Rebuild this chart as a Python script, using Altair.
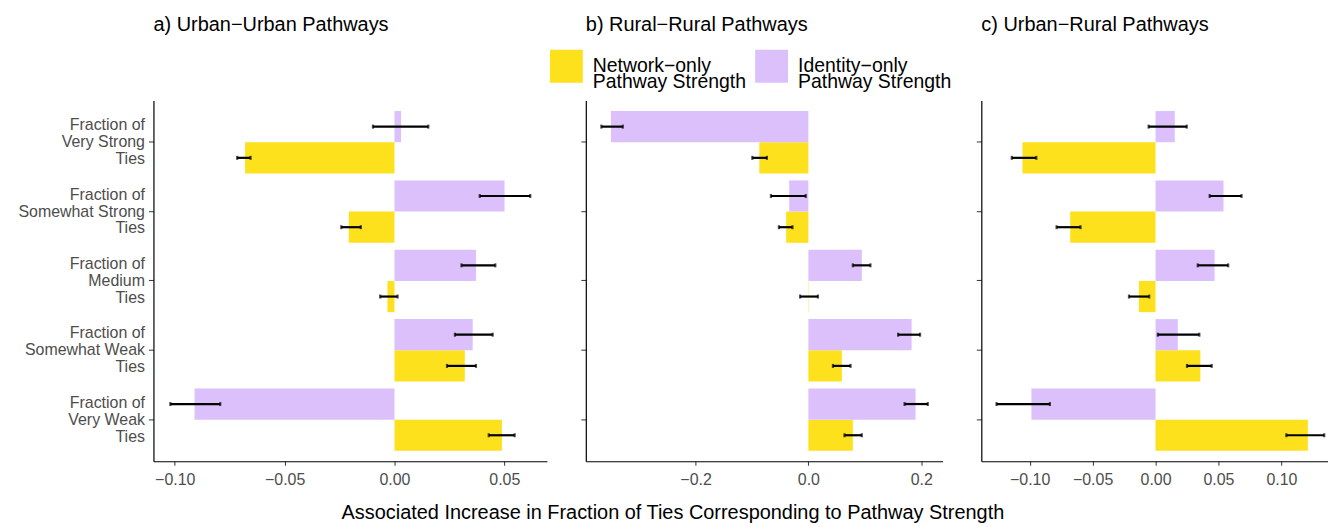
import altair as alt
import pandas as pd

FONT = "Liberation Sans"

categories = ["Very Strong", "Somewhat Strong", "Medium", "Somewhat Weak", "Very Weak"]
pathways = ["Network\u2212only|Pathway Strength", "Identity\u2212only|Pathway Strength"]
colors = ["#FDE11D", "#DCC0FB"]

# a) Urban-Urban
net_a = [-0.0680, -0.0208, -0.0032, 0.0320, 0.0489]
net_a_lo = [-0.0716, -0.0242, -0.0065, 0.0239, 0.0429]
net_a_hi = [-0.0655, -0.0153, 0.0014, 0.0371, 0.0547]
id_a = [0.0030, 0.0501, 0.0371, 0.0356, -0.0910]
id_a_lo = [-0.0098, 0.0388, 0.0305, 0.0275, -0.1020]
id_a_hi = [0.0154, 0.0618, 0.0459, 0.0447, -0.0793]

# b) Rural-Rural
net_b = [-0.0870, -0.0394, -0.0006, 0.0594, 0.0788]
net_b_lo = [-0.0994, -0.0523, -0.0147, 0.0435, 0.0640]
net_b_hi = [-0.0735, -0.0282, 0.0170, 0.0747, 0.0947]
id_b = [-0.3500, -0.0340, 0.0947, 0.1830, 0.1900]
id_b_lo = [-0.3670, -0.0664, 0.0788, 0.1590, 0.1705]
id_b_hi = [-0.3290, -0.0047, 0.1100, 0.1980, 0.2117]

# c) Urban-Rural
net_c = [-0.1057, -0.0678, -0.0132, 0.0356, 0.1210]
net_c_lo = [-0.1142, -0.0786, -0.0211, 0.0250, 0.1039]
net_c_hi = [-0.0947, -0.0596, -0.0050, 0.0446, 0.1340]
id_c = [0.0153, 0.0540, 0.0469, 0.0177, -0.0986]
id_c_lo = [-0.0055, 0.0430, 0.0335, 0.0018, -0.1263]
id_c_hi = [0.0248, 0.0683, 0.0577, 0.0348, -0.0839]

ticks_a = [-0.10, -0.05, 0.00, 0.05]
ticks_b = [-0.2, 0.0, 0.2]
ticks_c = [-0.10, -0.05, 0.00, 0.05, 0.10]

titles = ["a) Urban\u2212Urban Pathways", "b) Rural\u2212Rural Pathways", "c) Urban\u2212Rural Pathways"]
xtitle = "Associated Increase in Fraction of Ties Corresponding to Pathway Strength"


def build_df(net, net_lo, net_hi, idv, id_lo, id_hi):
    rows = []
    for i, c in enumerate(categories):
        rows.append(dict(category=c, pathway=pathways[0], value=net[i], lo=net_lo[i], hi=net_hi[i]))
        rows.append(dict(category=c, pathway=pathways[1], value=idv[i], lo=id_lo[i], hi=id_hi[i]))
    return pd.DataFrame(rows)


LEGEND = alt.Legend(orient="none", legendX=398, legendY=-51, direction="horizontal",
                    title=None, symbolType="square", symbolSize=1089,
                    symbolStrokeWidth=0, symbolOpacity=1, labelFontSize=19.5,
                    labelFont=FONT, labelColor="black",
                    labelExpr="split(datum.label, '|')", labelOffset=10,
                    columnPadding=9, labelLimit=300, padding=0)


def panel(df, domain, ticks, fmt, title, show_labels, width):
    yscale = alt.Scale(domain=categories, paddingInner=0.1, paddingOuter=0.15)
    yoff = alt.YOffset("pathway:N", sort=[pathways[1], pathways[0]],
                       scale=alt.Scale(paddingInner=0, paddingOuter=0))
    if show_labels:
        yaxis = alt.Axis(title=None, labelExpr="['Fraction of', datum.label, 'Ties']",
                         labelLineHeight=17, labelFontSize=16, labelColor="#4D4D4D",
                         labelPadding=4, tickSize=5, tickColor="#333333", labelOffset=-17,
                         domainColor="black", domainWidth=1.2, labelAlign="right")
    else:
        yaxis = alt.Axis(title=None, labels=False, tickSize=5, tickColor="#333333",
                         domainColor="black", domainWidth=1.2)
    y = alt.Y("category:N", scale=yscale, axis=yaxis)
    xscale = alt.Scale(domain=domain, nice=False, zero=False)
    xaxis = alt.Axis(title=None, values=ticks, format=fmt, labelFontSize=16,
                     labelColor="#4D4D4D", tickSize=4, tickColor="#333333",
                     domainColor="black", domainWidth=1.2, labelPadding=6)
    color = alt.Color("pathway:N", scale=alt.Scale(domain=pathways, range=colors), legend=LEGEND)

    base = alt.Chart(df)
    bars = base.mark_bar().encode(
        x=alt.X("value:Q", scale=xscale, axis=xaxis), y=y, yOffset=yoff, color=color)
    rule = base.mark_rule(color="black", strokeWidth=2.2).encode(
        x="lo:Q", x2="hi:Q", y=y, yOffset=yoff)
    cap_lo = base.mark_tick(color="black", size=4, thickness=2.2, orient="vertical").encode(
        x="lo:Q", y=y, yOffset=yoff)
    cap_hi = base.mark_tick(color="black", size=4, thickness=2.2, orient="vertical").encode(
        x="hi:Q", y=y, yOffset=yoff)
    return alt.layer(bars, rule, cap_lo, cap_hi).properties(
        width=width, height=362,
        title=alt.TitleParams(title, anchor="start", frame="group", fontSize=20, font=FONT,
                              color="black", fontWeight="normal", offset=66),
    )


pa = panel(build_df(net_a, net_a_lo, net_a_hi, id_a, id_a_lo, id_a_hi),
           [-0.1097, 0.0694], ticks_a, ".2f", titles[0], True, 395)
pb = panel(build_df(net_b, net_b_lo, net_b_hi, id_b, id_b_lo, id_b_hi),
           [-0.3946, 0.2377], ticks_b, ".1f", titles[1], False, 358)
pc = panel(build_df(net_c, net_c_lo, net_c_hi, id_c, id_c_lo, id_c_hi),
           [-0.1384, 0.1370], ticks_c, ".2f", titles[2], False, 348)

chart = alt.hconcat(pa, pb, pc, spacing=33).resolve_scale(
    x="independent", y="independent", color="shared"
).properties(
    title=alt.TitleParams(xtitle, orient="bottom", anchor="middle", fontSize=20, font=FONT,
                          color="black", fontWeight="normal", offset=16),
    padding={"left": 9, "top": 6, "right": 0, "bottom": 0},
).configure(
    font=FONT, style={"guide-label": {"lineHeight": 16}}
).configure_view(stroke=None).configure_axis(grid=False, labelFont=FONT)

chart.save("out.html", embed_options={"renderer": "svg", "actions": False})
